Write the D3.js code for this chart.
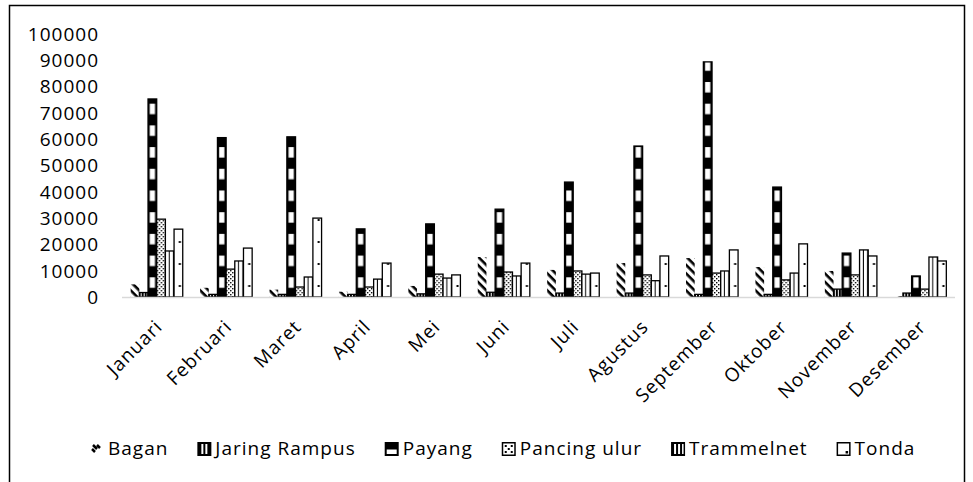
<!DOCTYPE html>
<html>
<head>
<meta charset="utf-8">
<script src="https://cdn.jsdelivr.net/npm/d3@7"></script>
<style>
  body { margin: 0; background: #fff; }
  text { font-family: "Open Sans", sans-serif; font-size: 19px; fill: #000; letter-spacing: 1px; }
</style>
</head>
<body>
<div id="chart"></div>
<script>
// data
var months = ["Januari", "Februari", "Maret", "April", "Mei", "Juni", "Juli",
    "Agustus", "September", "Oktober", "November", "Desember"];
var seriesNames = ["Bagan", "Jaring Rampus", "Payang", "Pancing ulur", "Trammelnet", "Tonda"];
var bagan = [4800, 3500, 2800, 2000, 4200, 15200, 10300, 12900, 14800, 11400, 9900, 300];
var jaringRampus = [1700, 1000, 1000, 1000, 1200, 1800, 1500, 1500, 1000, 1000, 3000, 1500];
var payang = [75300, 60600, 60900, 25900, 27800, 33400, 43700, 57400, 89400, 41800, 16700, 8000];
var pancingUlur = [29600, 10600, 3800, 3800, 8700, 9500, 9900, 8400, 9100, 6500, 8400, 3000];
var trammelnet = [17500, 13700, 7600, 6800, 7200, 8000, 8700, 6200, 9900, 9100, 17900, 15200];
var tonda = [25800, 18600, 30000, 12900, 8400, 12900, 9100, 15600, 17900, 20200, 15600, 13700];
var yTicks = [0, 10000, 20000, 30000, 40000, 50000, 60000, 70000, 80000, 90000, 100000];

var values = [bagan, jaringRampus, payang, pancingUlur, trammelnet, tonda];

var svgWidth = 973;
var svgHeight = 482;
var plot = { left: 122, right: 955, top: 34, bottom: 297 };

var svg = d3.select("#chart")
    .append("svg")
    .attr("width", svgWidth)
    .attr("height", svgHeight);

var x0 = d3.scaleBand()
    .domain(months)
    .range([plot.left, plot.right])
    .paddingInner(0.25)
    .paddingOuter(0.125);

var x1 = d3.scaleBand()
    .domain(seriesNames)
    .range([0, x0.bandwidth()]);

var y = d3.scaleLinear()
    .domain([0, 100000])
    .range([plot.bottom, plot.top]);

var bw = x1.bandwidth();

// fill patterns (bars sit inside translated groups, so x is relative to the group)
var defs = svg.append("defs");

var pBagan = defs.append("pattern").attr("id", "p0")
    .attr("patternUnits", "userSpaceOnUse")
    .attr("width", 6).attr("height", 6)
    .attr("patternTransform", "rotate(45)");
pBagan.append("rect").attr("width", 6).attr("height", 6).attr("fill", "#fff");
pBagan.append("rect").attr("width", 6).attr("height", 2.6).attr("fill", "#000");

var pJaring = defs.append("pattern").attr("id", "p1")
    .attr("patternUnits", "userSpaceOnUse")
    .attr("width", 3).attr("height", 4);
pJaring.append("rect").attr("width", 3).attr("height", 4).attr("fill", "#000");
pJaring.append("rect").attr("x", 1).attr("width", 1).attr("height", 4).attr("fill", "#fff");

// payang: white blocks inside a black bar
var pPayang = defs.append("pattern").attr("id", "p2")
    .attr("patternUnits", "userSpaceOnUse")
    .attr("x", 0).attr("y", plot.bottom)
    .attr("width", x0.step()).attr("height", 21.7);
pPayang.append("rect").attr("width", x0.step()).attr("height", 21.7).attr("fill", "#000");
pPayang.append("rect")
    .attr("x", x1("Payang") + 1.7)
    .attr("y", 2)
    .attr("width", bw - 3.4)
    .attr("height", 10.5)
    .attr("fill", "#fff");

var pPancing = defs.append("pattern").attr("id", "p3")
    .attr("patternUnits", "userSpaceOnUse")
    .attr("width", 4).attr("height", 4);
pPancing.append("rect").attr("width", 4).attr("height", 4).attr("fill", "#fff");
pPancing.append("rect").attr("width", 1.4).attr("height", 1.4).attr("fill", "#000");
pPancing.append("rect").attr("x", 2).attr("y", 2).attr("width", 1.4).attr("height", 1.4).attr("fill", "#000");

var pTram = defs.append("pattern").attr("id", "p4")
    .attr("patternUnits", "userSpaceOnUse")
    .attr("x", x1("Trammelnet"))
    .attr("width", bw / 2).attr("height", 4);
pTram.append("rect").attr("width", bw / 2).attr("height", 4).attr("fill", "#fff");
pTram.append("rect").attr("x", bw / 2 - 1).attr("width", 1.8).attr("height", 4).attr("fill", "#000");

var pTonda = defs.append("pattern").attr("id", "p5")
    .attr("patternUnits", "userSpaceOnUse")
    .attr("x", 0).attr("y", plot.bottom)
    .attr("width", x0.step()).attr("height", 22);
pTonda.append("rect").attr("width", x0.step()).attr("height", 22).attr("fill", "#fff");
pTonda.append("rect")
    .attr("x", x1("Tonda") + bw * 0.55)
    .attr("y", 10)
    .attr("width", 2).attr("height", 2)
    .attr("fill", "#000");

// outer frame
svg.append("rect")
    .attr("x", 9.5).attr("y", 5.5)
    .attr("width", 955).attr("height", 500)
    .attr("fill", "none")
    .attr("stroke", "#000")
    .attr("stroke-width", 1.5);

// y labels
svg.append("g").selectAll("text")
    .data(yTicks)
    .enter()
    .append("text")
    .attr("x", 99)
    .attr("y", d => y(d))
    .attr("dy", "0.36em")
    .attr("text-anchor", "end")
    .text(d => d);

// bars
var groups = svg.append("g").selectAll("g")
    .data(months)
    .enter()
    .append("g")
    .attr("transform", d => `translate(${x0(d)},0)`);

groups.selectAll("rect")
    .data((m, i) => seriesNames.map((s, k) => ({ s: s, k: k, v: values[k][i] })))
    .enter()
    .append("rect")
    .attr("x", d => x1(d.s))
    .attr("y", d => y(d.v))
    .attr("width", bw)
    .attr("height", d => plot.bottom - y(d.v))
    .attr("fill", d => `url(#p${d.k})`)
    .attr("stroke", d => d.k === 0 ? "none" : "#000")
    .attr("stroke-width", 1.3);

// x axis line
svg.append("line")
    .attr("x1", plot.left).attr("x2", plot.right)
    .attr("y1", plot.bottom + 0.5).attr("y2", plot.bottom + 0.5)
    .attr("stroke", "#d9d9d9")
    .attr("stroke-width", 1.5);

// month labels
svg.append("g").selectAll("text")
    .data(months)
    .enter()
    .append("text")
    .attr("text-anchor", "end")
    .attr("transform", d => `translate(${x0(d) + x0.bandwidth() / 2 + 7},${plot.bottom + 31}) rotate(-45)`)
    .text(d => d);

// legend
var icons = [
    [["rect", { width: 14, height: 14, fill: "#fff" }], ["path", { d: "M3,3L7,7M2,7L5,10M7,3L10,6", stroke: "#000", "stroke-width": 2.5 }]],
    [["rect", { width: 14, height: 14, fill: "#000" }], ["rect", { x: 4, y: 2, width: 2, height: 10, fill: "#fff" }], ["rect", { x: 8, y: 2, width: 2, height: 10, fill: "#fff" }]],
    [["rect", { width: 14, height: 14, fill: "#000" }], ["rect", { x: 2, y: 7.5, width: 10, height: 4.5, fill: "#fff" }]],
    [["rect", { x: 0.75, y: 0.75, width: 12.5, height: 12.5, fill: "#fff", stroke: "#000", "stroke-width": 1.5 }], ["rect", { x: 3, y: 3, width: 2, height: 2, fill: "#000" }], ["rect", { x: 9, y: 3, width: 2, height: 2, fill: "#000" }], ["rect", { x: 3, y: 9, width: 2, height: 2, fill: "#000" }], ["rect", { x: 9, y: 9, width: 2, height: 2, fill: "#000" }], ["rect", { x: 6, y: 6, width: 2, height: 2, fill: "#000" }]],
    [["rect", { width: 14, height: 14, fill: "#000" }], ["rect", { x: 3, y: 2, width: 2, height: 10, fill: "#fff" }], ["rect", { x: 7, y: 2, width: 2, height: 10, fill: "#fff" }], ["rect", { x: 11, y: 2, width: 1.5, height: 10, fill: "#fff" }]],
    [["rect", { x: 0.75, y: 0.75, width: 12.5, height: 12.5, fill: "#fff", stroke: "#000", "stroke-width": 1.5 }], ["rect", { x: 9, y: 9, width: 2.5, height: 2.5, fill: "#000" }]]
];

var legend = svg.append("g");
var lx = 90;
seriesNames.forEach(function(name, k) {
    var item = legend.append("g").attr("transform", `translate(${lx},442)`);
    icons[k].forEach(function(p) {
        var el = item.append(p[0]);
        Object.keys(p[1]).forEach(key => el.attr(key, p[1][key]));
    });
    var t = item.append("text")
        .attr("x", 18)
        .attr("y", 13)
        .text(name);
    lx += 18 + t.node().getComputedTextLength() + 29;
});
</script>
</body>
</html>
